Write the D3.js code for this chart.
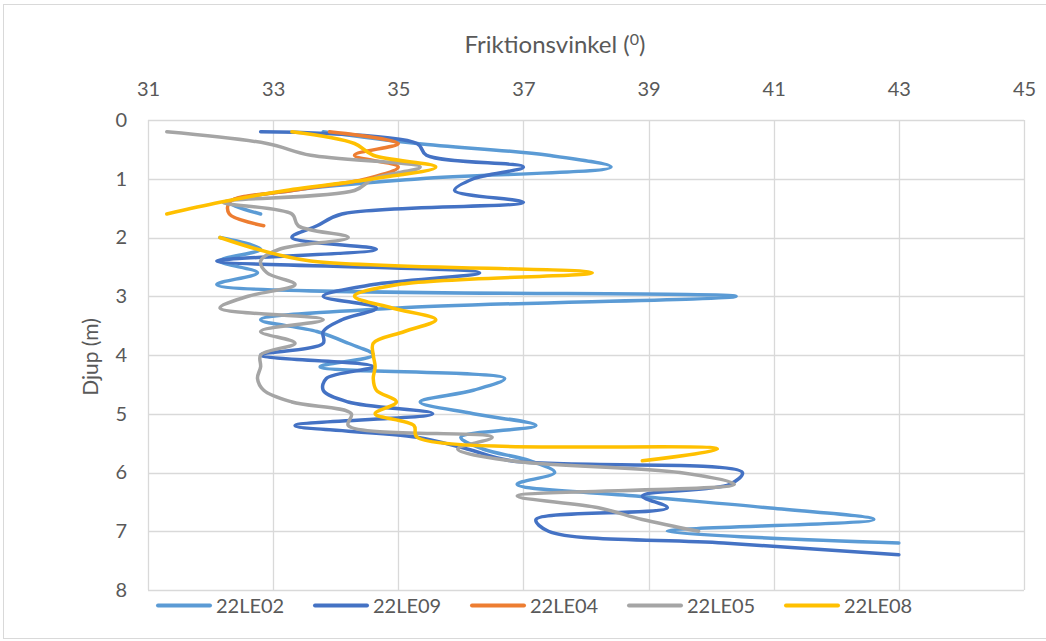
<!DOCTYPE html>
<html><head><meta charset="utf-8">
<script src="https://cdn.jsdelivr.net/npm/d3@7"></script>
<style>
body{margin:0;background:#fff;}
text{font-family:Lato,"Open Sans",sans-serif;fill:#595959;}
</style></head>
<body><svg id="c" width="1046" height="641"></svg>
<script>
const depths = [0.2,0.4,0.6,0.8,1.0,1.2,1.4,1.6,1.8,2.0,2.2,2.4,2.6,2.8,3.0,3.2,3.4,3.6,3.8,4.0,4.2,4.4,4.6,4.8,5.0,5.2,5.4,5.6,5.8,6.0,6.2,6.4,6.6,6.8,7.0,7.2,7.4];
const le02 = [33.8,35.3,37.4,38.4,35.35,33.3,32.3,32.8,null,32.15,32.8,32.15,32.75,32.1,40.4,35.0,32.8,33.7,34.2,34.6,33.75,36.7,36.2,35.35,36.2,37.2,36.0,36.35,37.1,37.5,36.9,38.8,40.9,42.6,39.3,43.0,null];
const le09 = [32.8,35.3,35.45,37.0,36.2,35.9,37.0,34.1,33.7,33.3,34.65,32.1,36.3,34.6,33.8,34.65,34.1,33.8,33.8,32.8,34.6,33.85,33.8,34.2,35.55,33.35,35.3,36.1,36.8,40.5,40.3,38.9,39.3,37.2,37.4,40.2,43.0];
const le04 = [33.9,35.0,34.3,35.0,34.5,33.3,32.3,32.3,32.85,null,null,null,null,null,null,null,null,null,null,null,null,null,null,null,null,null,null,null,null,null,null,null,null,null,null,null,null];
const le05 = [31.3,32.9,33.6,35.35,34.6,34.3,32.2,33.3,33.4,34.2,33.1,32.8,32.9,33.35,32.6,32.15,33.8,32.8,33.35,32.8,32.8,32.75,32.85,33.3,34.25,34.2,36.5,35.95,36.8,39.5,40.37,36.9,38.2,38.9,39.8,null,null];
const le08 = [33.3,34.3,34.6,35.6,34.6,33.2,32.15,31.3,null,32.15,32.75,33.6,38.1,35.0,34.3,34.9,35.6,35.1,34.6,34.6,34.63,34.6,34.65,34.97,34.63,35.25,35.3,40.1,38.9,null,null,null,null,null,null,null,null];
const seriesNames = ["22LE02","22LE09","22LE04","22LE05","22LE08"];
const seriesValues = [le02,le09,le04,le05,le08];
const colors = ["#5B9BD5","#4472C4","#ED7D31","#A5A5A5","#FFC000"];
const xTicks = [31,33,35,37,39,41,43,45];
const yTicks = [0,1,2,3,4,5,6,7,8];

const svg = d3.select("#c");
svg.append("rect").attr("x",3.5).attr("y",4.5).attr("width",1045).attr("height",634)
  .attr("fill","#fff").attr("stroke","#d9d9d9");

const x = d3.scaleLinear().domain([31,45]).range([148,1024]);
const y = d3.scaleLinear().domain([0,8]).range([120,590]);

const g = svg.append("g");
g.selectAll(".vg").data(xTicks).join("line")
  .attr("x1",d=>Math.round(x(d))+0.5).attr("x2",d=>Math.round(x(d))+0.5)
  .attr("y1",y(0)).attr("y2",y(8)).attr("stroke","#d9d9d9").attr("stroke-width",1.3);
g.selectAll(".hg").data(yTicks).join("line")
  .attr("y1",d=>Math.round(y(d))+0.5).attr("y2",d=>Math.round(y(d))+0.5)
  .attr("x1",x(31)).attr("x2",x(45)).attr("stroke","#d9d9d9").attr("stroke-width",1.3);

const xa = svg.append("g").attr("transform",`translate(0,${y(0)})`)
  .call(d3.axisTop(x).tickValues(xTicks).tickSize(0).tickPadding(24).tickFormat(d3.format("d")));
xa.select(".domain").remove();
xa.selectAll("text").style("font-size","20px").style("font-family","Lato,sans-serif").attr("fill","#595959");

const ya = svg.append("g").attr("transform",`translate(${x(31)},0)`)
  .call(d3.axisLeft(y).tickValues(yTicks).tickSize(0).tickPadding(21).tickFormat(d3.format("d")));
ya.select(".domain").remove();
ya.selectAll("text").style("font-size","20px").style("font-family","Lato,sans-serif").attr("fill","#595959");

const t = svg.append("text").attr("x",555).attr("y",53).attr("text-anchor","middle").style("font-size","24px");
t.append("tspan").text("Friktionsvinkel (");
t.append("tspan").text("0").attr("dy",-8).style("font-size","16px");
t.append("tspan").text(")").attr("dy",8);

svg.append("text").attr("transform","translate(98,357) rotate(-90)").attr("text-anchor","middle")
  .style("font-size","21px").text("Djup (m)");

const line = d3.line().defined(d=>d[1]!=null).x(d=>x(d[1])).y(d=>y(d[0])).curve(d3.curveCatmullRom.alpha(0.5));
seriesValues.forEach((vals,i)=>{
  const pts = depths.map((d,k)=>[d,vals[k]]);
  svg.append("path").datum(pts).attr("d",line).attr("fill","none")
    .attr("stroke",colors[i]).attr("stroke-width",3.5).attr("stroke-linecap","round").attr("stroke-linejoin","round");
});

const lg = svg.append("g");
seriesNames.forEach((n,i)=>{
  const lx = 158 + i*157;
  lg.append("line").attr("x1",lx).attr("x2",lx+52).attr("y1",605.5).attr("y2",605.5)
    .attr("stroke",colors[i]).attr("stroke-width",4).attr("stroke-linecap","round");
  lg.append("text").attr("x",lx+58).attr("y",605.5).attr("dy","0.36em").style("font-size","20px").text(n);
});
</script></body></html>
